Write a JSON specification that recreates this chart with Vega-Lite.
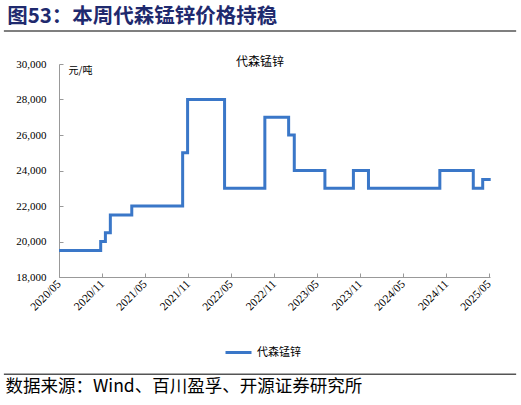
{
  "$schema": "https://vega.github.io/schema/vega-lite/v6.json",
  "autosize": "none",
  "width": 431,
  "height": 213,
  "padding": {"left": 59, "top": 64, "right": 31, "bottom": 128},
  "background": "white",
  "title": {
    "text": "图53：本周代森锰锌价格持稳",
    "anchor": "start",
    "dx": 4,
    "offset": 3,
    "font": "Noto Sans CJK SC",
    "fontSize": 20.5,
    "fontWeight": "bold",
    "color": "#1F2A6E"
  },
  "layer": [
    {
      "data": {
        "values": [
          {"date": "2020-05-01T00:00:00", "price": 19500, "series": "代森锰锌"},
          {"date": "2020-10-25T00:00:00", "price": 20000, "series": "代森锰锌"},
          {"date": "2020-11-14T00:00:00", "price": 20500, "series": "代森锰锌"},
          {"date": "2020-12-05T00:00:00", "price": 21500, "series": "代森锰锌"},
          {"date": "2021-03-06T00:00:00", "price": 22000, "series": "代森锰锌"},
          {"date": "2021-10-08T00:00:00", "price": 25000, "series": "代森锰锌"},
          {"date": "2021-10-29T00:00:00", "price": 28000, "series": "代森锰锌"},
          {"date": "2022-04-04T00:00:00", "price": 23000, "series": "代森锰锌"},
          {"date": "2022-09-22T00:00:00", "price": 27000, "series": "代森锰锌"},
          {"date": "2023-01-01T00:00:00", "price": 26000, "series": "代森锰锌"},
          {"date": "2023-01-25T00:00:00", "price": 24000, "series": "代森锰锌"},
          {"date": "2023-06-04T00:00:00", "price": 23000, "series": "代森锰锌"},
          {"date": "2023-10-03T00:00:00", "price": 24000, "series": "代森锰锌"},
          {"date": "2023-12-06T00:00:00", "price": 23000, "series": "代森锰锌"},
          {"date": "2024-10-04T00:00:00", "price": 24000, "series": "代森锰锌"},
          {"date": "2025-02-23T00:00:00", "price": 23000, "series": "代森锰锌"},
          {"date": "2025-04-04T00:00:00", "price": 23500, "series": "代森锰锌"},
          {"date": "2025-05-08T00:00:00", "price": 23500, "series": "代森锰锌"}
        ]
      },
      "mark": {"type": "line", "interpolate": "step-after", "strokeWidth": 3},
      "encoding": {
        "x": {
          "field": "date",
          "type": "temporal",
          "scale": {"domain": [{"year": 2020, "month": 5, "date": 1}, {"year": 2025, "month": 5, "date": 5}]},
          "axis": {
            "values": [
              {"year": 2020, "month": 5, "date": 1},
              {"year": 2020, "month": 11, "date": 1},
              {"year": 2021, "month": 5, "date": 1},
              {"year": 2021, "month": 11, "date": 1},
              {"year": 2022, "month": 5, "date": 1},
              {"year": 2022, "month": 11, "date": 1},
              {"year": 2023, "month": 5, "date": 1},
              {"year": 2023, "month": 11, "date": 1},
              {"year": 2024, "month": 5, "date": 1},
              {"year": 2024, "month": 11, "date": 1},
              {"year": 2025, "month": 5, "date": 1}
            ],
            "tickCount": 20,
            "labelExpr": "timeFormat(datum.value, '%Y/%m')",
            "labelAngle": -45,
            "labelAlign": "right",
            "labelBaseline": "middle",
            "labelPadding": 9,
            "labelFontSize": 11.5,
            "title": "数据来源：Wind、百川盈孚、开源证券研究所",
            "titleX": -54,
            "titleY": 109,
            "titleAlign": "left",
            "titleBaseline": "middle",
            "titleFontSize": 17.5
          }
        },
        "y": {
          "field": "price",
          "type": "quantitative",
          "scale": {"domain": [18000, 30000], "nice": false, "zero": false},
          "axis": {
            "values": [18000, 20000, 22000, 24000, 26000, 28000, 30000],
            "tickCount": 20,
            "labelExpr": "format(datum.value, ',')",
            "labelPadding": 17,
            "title": "元/吨",
            "titleAngle": 0,
            "titleX": 9,
            "titleY": 6,
            "titleAlign": "left",
            "titleBaseline": "middle",
            "titleFontSize": 10
          }
        },
        "color": {
          "field": "series",
          "type": "nominal",
          "scale": {"range": ["#3A77C8"]},
          "legend": {
            "title": null,
            "orient": "none",
            "legendX": 165,
            "legendY": 274,
            "symbolType": "stroke",
            "symbolStrokeWidth": 3,
            "symbolSize": 676,
            "labelFont": "Noto Sans CJK SC",
            "labelFontSize": 11,
            "labelColor": "black"
          }
        }
      }
    },
    {
      "data": {"values": [{"label": "代森锰锌"}]},
      "mark": {"type": "text", "font": "Noto Sans CJK SC", "fontSize": 12, "color": "black", "baseline": "middle"},
      "encoding": {
        "x": {"datum": {"year": 2022, "month": 9, "date": 1}, "type": "temporal"},
        "y": {"datum": 30110, "type": "quantitative"},
        "text": {"field": "label"}
      }
    },
    {
      "data": {"values": [{"y": 31860}, {"y": 12520}]},
      "mark": {"type": "rule", "color": "#555555", "strokeWidth": 1.5},
      "encoding": {
        "x": {"datum": {"year": 2019, "month": 9, "date": 10}, "type": "temporal"},
        "x2": {"datum": {"year": 2025, "month": 8, "date": 24}},
        "y": {"field": "y", "type": "quantitative"}
      }
    }
  ],
  "config": {
    "view": {"stroke": null},
    "axis": {
      "labelOverlap": false,
      "labelFlush": false,
      "labelFont": "Liberation Serif",
      "labelFontSize": 11,
      "labelColor": "black",
      "grid": false,
      "domainColor": "#999999",
      "tickColor": "#999999",
      "tickSize": -4,
      "titleFont": "Noto Sans CJK SC",
      "titleFontWeight": "normal",
      "titleColor": "black"
    }
  }
}
